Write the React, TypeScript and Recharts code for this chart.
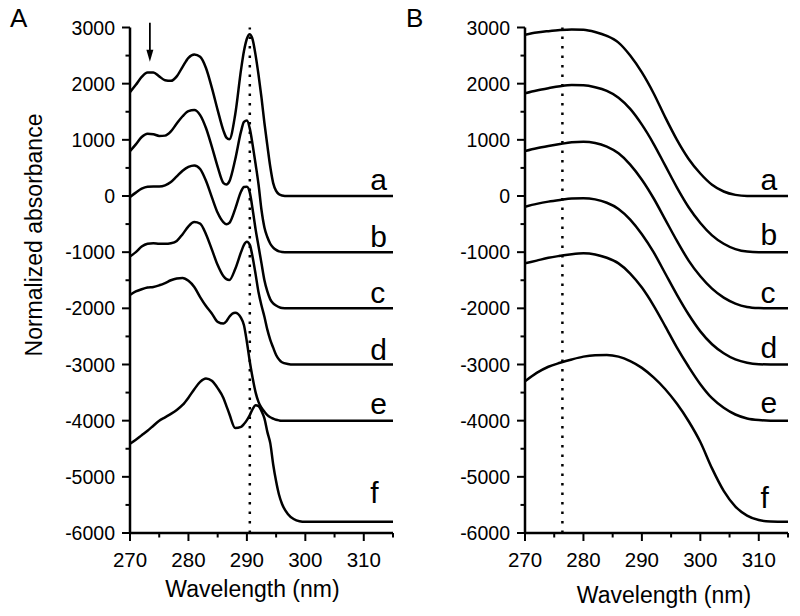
import React from 'react';
import { LineChart, Line, XAxis, YAxis, ReferenceLine, ReferenceDot, Label } from 'recharts';

const FONT = '"Liberation Sans", Arial, Helvetica, sans-serif';

// ---------- Panel A (wavelength grid, nm) ----------
const wavelengthA = [270, 271, 272, 273, 274, 275, 276, 277, 278, 279, 280, 281, 282, 283, 284, 285, 286, 286.5, 287, 288, 289, 289.5, 290, 290.5, 291, 291.5, 292, 292.5, 293, 293.5, 294, 294.5, 295, 295.5, 296, 297, 298, 299, 300, 305, 310, 315];
const specA_a = [1850, 1980, 2120, 2200, 2200, 2130, 2060, 2050, 2130, 2300, 2460, 2520, 2480, 2280, 1930, 1530, 1160, 1040, 1010, 1450, 2250, 2580, 2800, 2880, 2780, 2500, 2150, 1750, 1300, 900, 520, 230, 90, 30, 10, 0, 0, 0, 0, 0, 0, 0];
const specA_b = [800, 920, 1050, 1110, 1100, 1070, 1075, 1150, 1290, 1420, 1510, 1530, 1440, 1210, 880, 520, 230, 205, 260, 650, 1150, 1320, 1345, 1200, 900, 560, 200, -250, -560, -730, -850, -920, -960, -985, -995, -1000, -1000, -1000, -1000, -1000, -1000, -1000];
const specA_c = [-20, 60, 130, 165, 170, 170, 190, 250, 350, 450, 520, 545, 480, 270, -20, -300, -470, -505, -480, -230, 80, 160, 165, 60, -250, -600, -900, -1200, -1500, -1700, -1840, -1910, -1950, -1980, -1995, -2000, -2000, -2000, -2000, -2000, -2000, -2000];
const specA_d = [-1075, -1000, -900, -850, -840, -850, -850, -840, -800, -680, -540, -465, -490, -680, -950, -1230, -1430, -1480, -1495, -1300, -1000, -870, -815, -870, -1100, -1400, -1720, -1950, -2150, -2380, -2560, -2700, -2830, -2910, -2960, -2990, -3000, -3000, -3000, -3000, -3000, -3000];
const specA_e = [-1760, -1700, -1660, -1630, -1620, -1590, -1550, -1500, -1470, -1460, -1510, -1620, -1800, -1960, -2090, -2240, -2270, -2230, -2150, -2080, -2170, -2300, -2600, -2950, -3250, -3500, -3670, -3770, -3840, -3900, -3940, -3965, -3985, -3995, -4000, -4000, -4000, -4000, -4000, -4000, -4000, -4000];
const specA_f = [-4410, -4340, -4260, -4180, -4090, -4000, -3940, -3880, -3810, -3720, -3590, -3440, -3310, -3250, -3290, -3420, -3600, -3740, -3880, -4130, -4110, -4060, -3990, -3900, -3790, -3725, -3740, -3830, -3960, -4200, -4400, -4780, -5080, -5320, -5480, -5660, -5750, -5790, -5800, -5800, -5800, -5800];

// ---------- Panel B ----------
const wavelengthB = [270, 272, 274, 276, 278, 280, 282, 284, 286, 288, 290, 292, 294, 296, 298, 300, 302, 304, 306, 308, 310, 312, 315];
const specB_a = [2870, 2910, 2935, 2955, 2965, 2960, 2920, 2850, 2730, 2500, 2200, 1830, 1400, 1000, 660, 400, 200, 80, 20, 0, 0, 0, 0];
const specB_b = [1830, 1880, 1920, 1955, 1975, 1970, 1935, 1870, 1750, 1550, 1270, 930, 540, 150, -200, -480, -700, -850, -945, -990, -1000, -1000, -1000];
const specB_c = [800, 850, 890, 925, 955, 965, 945, 880, 760, 560, 290, -40, -420, -800, -1150, -1430, -1650, -1810, -1915, -1975, -1995, -2000, -2000];
const specB_d = [-190, -140, -100, -70, -45, -40, -60, -120, -230, -420, -680, -1000, -1380, -1760, -2110, -2410, -2640, -2800, -2910, -2970, -2995, -3000, -3000];
const specB_e = [-1200, -1150, -1100, -1065, -1035, -1020, -1040, -1100, -1200, -1380, -1630, -1950, -2320, -2700, -3040, -3350, -3600, -3770, -3890, -3960, -3990, -4000, -4000];
const specB_f = [-3300, -3150, -3040, -2970, -2910, -2860, -2835, -2830, -2860, -2940, -3060, -3230, -3440, -3700, -4010, -4380, -4850, -5250, -5530, -5690, -5770, -5795, -5800];

const curveLetters = ['a', 'b', 'c', 'd', 'e', 'f'];
const letterLevelsA = [100, -900, -1900, -2920, -3880, -5470];
const letterLevelsB = [100, -870, -1900, -2880, -3870, -5550];
const letterXA = 311.1;
const letterXB = 310.3;

const xTicks = [270, 275, 280, 285, 290, 295, 300, 305, 310, 315];
const yTicks = [-6000, -5500, -5000, -4500, -4000, -3500, -3000, -2500, -2000, -1500, -1000, -500, 0, 500, 1000, 1500, 2000, 2500, 3000];

const markerA = 290.5;
const markerB = 276.4;
const arrowX = 273.4;
const arrowFrom = 3085;
const arrowTo = 2390;

function buildRows(wl: number[], series: number[][]) {
  return wl.map((x, i) => {
    const r: any = { x };
    series.forEach((s, k) => { r[curveLetters[k]] = s[i]; });
    return r;
  });
}

const rowsA = buildRows(wavelengthA, [specA_a, specA_b, specA_c, specA_d, specA_e, specA_f]);
const rowsB = buildRows(wavelengthB, [specB_a, specB_b, specB_c, specB_d, specB_e, specB_f]);

const XTick = (p: any) => {
  const { x, y, payload } = p;
  const v = payload.value;
  const major = v % 10 === 0;
  return (
    <g>
      <line x1={x} x2={x} y1={y} y2={y + (major ? 8 : 4.5)} stroke="#000" strokeWidth={2} />
      {major ? (
        <text x={x} y={y + 33.7} textAnchor="middle" fontSize={20.5} fontFamily={FONT} fill="#000">{v}</text>
      ) : null}
    </g>
  );
};

const YTick = (p: any) => {
  const { x, y, payload } = p;
  const v = payload.value;
  const major = v % 1000 === 0;
  return (
    <g>
      <line x1={x - (major ? 8 : 4.5)} x2={x} y1={y} y2={y} stroke="#000" strokeWidth={2} />
      {major ? (
        <text x={x - 15} y={y + 7} textAnchor="end" fontSize={19.5} fontFamily={FONT} fill="#000">{v}</text>
      ) : null}
    </g>
  );
};

const fixedText = (txt: string, x: number, y: number, size: number, rotate?: boolean) => () => (
  <text
    x={rotate ? 0 : x}
    y={rotate ? 0 : y}
    transform={rotate ? `translate(${x},${y}) rotate(-90)` : undefined}
    textAnchor={rotate ? 'middle' : undefined}
    fontSize={size}
    fontFamily={FONT}
    fill="#000"
  >
    {txt}
  </text>
);

const centeredText = (txt: string, x: number, y: number, size: number) => () => (
  <text x={x} y={y} textAnchor="middle" fontSize={size} fontFamily={FONT} fill="#000">{txt}</text>
);

const ArrowShape = (p: any) => {
  const { x1, y1, x2, y2 } = p;
  return (
    <g>
      <line x1={x1} y1={y1} x2={x2} y2={y2 - 8} stroke="#000" strokeWidth={1.8} />
      <polygon points={`${x2},${y2} ${x2 - 3.5},${y2 - 12} ${x2 + 3.5},${y2 - 12}`} fill="#000" />
    </g>
  );
};

const letterShape = (letter: string) => (p: any) => (
  <text x={p.cx} y={p.cy} textAnchor="start" fontSize={30} fontFamily={FONT} fill="#000">{letter}</text>
);

const axisLineStyle = { stroke: '#000', strokeWidth: 2.5 };

function Panel(props: {
  rows: any[];
  marker: number;
  letterLevels: number[];
  letterX: number;
  yWidth: number;
  right: number;
  panelLetter: string;
  panelLetterX: number;
  titleX: number;
  titleY: number;
  yTitle?: boolean;
  arrow?: boolean;
}) {
  const { rows, marker, letterLevels, letterX, yWidth, right, panelLetter, panelLetterX, titleX, titleY, yTitle, arrow } = props;
  return (
    <LineChart width={400} height={616} data={rows} margin={{ top: 27.5, right, bottom: 53, left: 0 }}>
      <XAxis
        dataKey="x"
        type="number"
        domain={[270, 315]}
        ticks={xTicks}
        interval={0}
        tickSize={0}
        tickMargin={0}
        tickLine={false}
        axisLine={axisLineStyle}
        height={30}
        tick={XTick}
        allowDataOverflow
      >
        <Label content={centeredText('Wavelength (nm)', titleX, titleY, 23)} />
      </XAxis>
      <YAxis
        type="number"
        domain={[-6000, 3000]}
        ticks={yTicks}
        interval={0}
        tickSize={0}
        tickMargin={0}
        tickLine={false}
        axisLine={axisLineStyle}
        width={yWidth}
        tick={YTick}
        allowDataOverflow
      >
        <Label content={fixedText(panelLetter, panelLetterX, 26.7, 26)} />
        {yTitle ? <Label content={fixedText('Normalized absorbance', 41.5, 235, 23, true)} /> : null}
      </YAxis>
      <ReferenceLine x={marker} stroke="#000" strokeWidth={2.5} strokeDasharray="2.5 7" />
      {arrow ? (
        <ReferenceLine
          segment={[{ x: arrowX, y: arrowFrom }, { x: arrowX, y: arrowTo }]}
          ifOverflow="visible"
          shape={ArrowShape}
        />
      ) : null}
      {curveLetters.map((k) => (
        <Line
          key={k}
          type="monotone"
          dataKey={k}
          stroke="#000"
          strokeWidth={2.5}
          dot={false}
          activeDot={false}
          isAnimationActive={false}
          strokeLinejoin="round"
        />
      ))}
      {curveLetters.map((k, i) => (
        <ReferenceDot key={'l' + k} x={letterX} y={letterLevels[i]} r={0} ifOverflow="visible" shape={letterShape(k)} />
      ))}
    </LineChart>
  );
}

export default function App() {
  return (
    <div style={{ position: 'absolute', left: 0, top: 0, width: 800, height: 616, background: '#fff', fontFamily: FONT }}>
      <div style={{ position: 'absolute', left: 0, top: 0 }}>
        <Panel
          rows={rowsA}
          marker={markerA}
          letterLevels={letterLevelsA}
          letterX={letterXA}
          yWidth={130}
          right={7}
          panelLetter="A"
          panelLetterX={10}
          titleX={252.5}
          titleY={596.5}
          yTitle
          arrow
        />
      </div>
      <div style={{ position: 'absolute', left: 400, top: 0 }}>
        <Panel
          rows={rowsB}
          marker={markerB}
          letterLevels={letterLevelsB}
          letterX={letterXB}
          yWidth={125}
          right={12}
          panelLetter="B"
          panelLetterX={6}
          titleX={264}
          titleY={602.5}
        />
      </div>
    </div>
  );
}
